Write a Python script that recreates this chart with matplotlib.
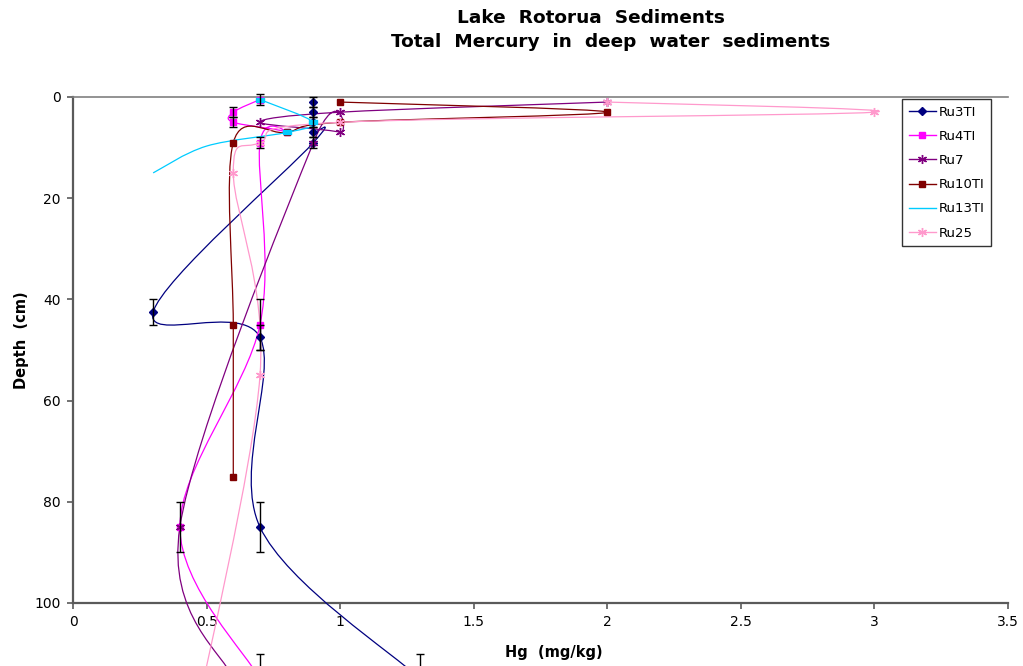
import numpy as np
import matplotlib
matplotlib.use("Agg")
from matplotlib import pyplot as plt
from matplotlib.path import Path
from matplotlib.patches import PathPatch
from matplotlib.lines import Line2D

# Hg (mg/kg) against depth (cm) for each core, with the +/- error on each reading
names = ["Ru3TI", "Ru4TI", "Ru7", "Ru10TI", "Ru13TI", "Ru25"]

ru3_hg = [0.9, 0.9, 0.9, 0.9, 0.9, 0.3, 0.7, 0.7, 1.3]
ru3_depth = [1, 3, 5, 7, 9, 42.5, 47.5, 85, 115]
ru3_err = [1, 1, 1, 1, 1, 2.5, 2.5, 5, 5]

ru4_hg = [0.7, 0.6, 0.6, 0.8, 0.7, 0.7, 0.4, 0.7]
ru4_depth = [0.5, 3, 5, 7, 9, 45, 85, 115]
ru4_err = [1, 1, 1, 0, 1, 5, 5, 5]

ru7_hg = [2.0, 1.0, 0.7, 1.0, 0.9, 0.4, 0.6]
ru7_depth = [1, 3, 5, 7, 9, 85, 115]

ru10_hg = [1.0, 2.0, 1.0, 0.8, 0.6, 0.6, 0.6]
ru10_depth = [1, 3, 5, 7, 9, 45, 75]

ru13_hg = [0.7, 0.9, 0.8, 0.5, 0.3]
ru13_depth = [0.5, 5, 7, 9.7, 15]

ru25_hg = [2.0, 3.0, 1.0, 0.7, 0.6, 0.7, 0.45]
ru25_depth = [1, 3, 5, 9, 15, 55, 125]

colors = ["#000080", "#FF00FF", "#800080", "#800000", "#00CCFF", "#FF99CC"]

asterisk = (6, 2, 0)
dash = [(-1, -0.45), (1, -0.45), (1, 0.45), (-1, 0.45), (-1, -0.45)]


def smooth_path(x, y):
    # Catmull-Rom style cubic Bezier through every reading
    p = np.column_stack([x, y]).astype(float)
    n = len(p)
    verts = [p[0]]
    codes = [Path.MOVETO]
    for i in range(n - 1):
        prev = p[i - 1] if i > 0 else p[i]
        nxt = p[i + 2] if i + 2 < n else p[i + 1]
        c1 = p[i] + (p[i + 1] - prev) / 6.0
        c2 = p[i + 1] - (nxt - p[i]) / 6.0
        verts += [c1, c2, p[i + 1]]
        codes += [Path.CURVE4] * 3
    return Path(verts, codes)


def draw_series(ax, x, y, color, marker, ms, every=None, lw=0.9):
    patch = PathPatch(smooth_path(x, y), facecolor="none", edgecolor=color,
                      lw=lw, clip_on=False, zorder=3)
    ax.add_patch(patch)
    if marker is not None:
        ax.plot(x, y, linestyle="none", marker=marker, ms=ms, color=color,
                mec=color, mfc=color, mew=1.0, markevery=every,
                clip_on=False, zorder=4)


def draw_err(ax, x, y, err):
    x = np.array(x, float)
    y = np.array(y, float)
    err = np.array(err, float)
    keep = err > 0
    eb = ax.errorbar(x[keep], y[keep], yerr=err[keep], fmt="none", ecolor="black",
                     elinewidth=1.0, capsize=3, capthick=1.0, zorder=5)
    for cap in eb[1]:
        cap.set_clip_on(False)
    for col in eb[2]:
        col.set_clip_on(False)


fig = plt.figure(figsize=(10.23, 6.66), dpi=100)
ax = fig.add_axes([73 / 1023, 1 - 603 / 666, 935 / 1023, 506 / 666])

draw_series(ax, ru3_hg, ru3_depth, colors[0], "D", 4.2)
draw_series(ax, ru4_hg, ru4_depth, colors[1], "s", 4.6)
draw_series(ax, ru7_hg, ru7_depth, colors[2], asterisk, 6.5)
draw_series(ax, ru10_hg, ru10_depth, colors[3], "s", 5)
draw_series(ax, ru13_hg, ru13_depth, colors[4], dash, 5.5, every=[0, 1, 2])
draw_series(ax, ru25_hg, ru25_depth, colors[5], asterisk, 6.5)

draw_err(ax, ru3_hg, ru3_depth, ru3_err)
draw_err(ax, ru4_hg, ru4_depth, ru4_err)

ax.set_xlim(0, 3.5)
ax.set_ylim(100, 0)
ax.set_xticks(np.arange(0, 3.51, 0.5))
ax.set_xticklabels(["0", "0.5", "1", "1.5", "2", "2.5", "3", "3.5"])
ax.set_yticks(np.arange(0, 101, 20))

ax.spines["right"].set_visible(False)
ax.spines["top"].set_color("#808080")
ax.spines["top"].set_linewidth(1.2)
for side in ("left", "bottom"):
    ax.spines[side].set_color("#5a5a5a")
    ax.spines[side].set_linewidth(1.6)

ax.tick_params(axis="both", direction="out", length=4, width=1.2,
               color="#5a5a5a", labelsize=10, pad=5)

fig.text(22 / 1023, 1 - 340 / 666, "Depth  (cm)", fontsize=10.5, fontweight="bold",
         rotation=90, ha="center", va="center")
fig.text(554 / 1023, 1 - 652 / 666, "Hg  (mg/kg)", fontsize=10.5, fontweight="bold",
         ha="center", va="center")

fig.text(591 / 1023, 1 - 18 / 666, "Lake  Rotorua  Sediments", fontsize=13.3,
         fontweight="bold", ha="center", va="center")
fig.text(611 / 1023, 1 - 42 / 666, "Total  Mercury  in  deep  water  sediments",
         fontsize=13.3, fontweight="bold", ha="center", va="center")

markers = ["D", "s", asterisk, "s", None, asterisk]
sizes = [4.2, 4.6, 6.5, 5, 0, 6.5]
handles = [Line2D([], [], color=c, lw=1.0, marker=m, ms=s, mec=c, mfc=c)
           for c, m, s in zip(colors, markers, sizes)]
leg = fig.legend(handles, names, loc="upper left",
                 bbox_to_anchor=(902 / 1023, 1 - 99 / 666),
                 frameon=True, fancybox=False, fontsize=9.5, handlelength=2.1,
                 handletextpad=0.2, labelspacing=0.85, borderpad=0.5,
                 borderaxespad=0)
leg.get_frame().set_edgecolor("black")
leg.get_frame().set_linewidth(1.0)

fig.savefig("out.png", dpi=100)
